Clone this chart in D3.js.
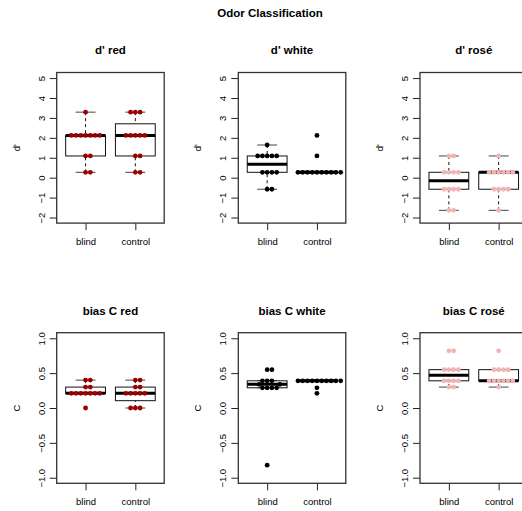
<!DOCTYPE html>
<html><head><meta charset="utf-8">
<script src="https://cdn.jsdelivr.net/npm/d3@7"></script>
<style>
body{margin:0;background:#fff}
text{font-family:"Liberation Sans",Arial,Helvetica,sans-serif;fill:#000}
</style></head>
<body><svg id="chart" width="522" height="511"></svg>
<script>
// ---- data ----
const mainTitle = "Odor Classification";
const groups = ["blind", "control"];
const panelTitles = ["d' red", "d' white", "d' rosé", "bias C red", "bias C white", "bias C rosé"];
const rowYLabels = ["d'", "C"];
const dTicks = [-2, -1, 0, 1, 2, 3, 4, 5];
const cTicks = [-1.0, -0.5, 0.0, 0.5, 1.0];
const wineColors = ["#990000", "#000000", "#f3b3b3"];

const dRedBlind     = [3.29, 2.12, 2.12, 2.12, 2.12, 2.12, 2.12, 2.12, 1.09, 1.09, 0.27, 0.27];
const dRedControl   = [3.29, 3.29, 3.29, 2.12, 2.12, 2.12, 2.12, 2.12, 1.09, 1.09, 0.27, 0.27];
const dWhiteBlind   = [1.64, 1.09, 1.09, 1.09, 1.09, 1.09, 0.27, 0.27, 0.27, 0.27, -0.58, -0.58];
const dWhiteControl = [2.12, 1.09, 0.27, 0.27, 0.27, 0.27, 0.27, 0.27, 0.27, 0.27, 0.27, 0.27];
const dRoseBlind    = [1.09, 1.09, 0.27, 0.27, 0.27, 0.27, -0.58, -0.58, -0.58, -0.58, -1.64, -1.64];
const dRoseControl  = [1.09, 0.27, 0.27, 0.27, 0.27, 0.27, 0.27, -0.58, -0.58, -0.58, -0.58, -1.64];
const cRedBlind     = [0.40, 0.40, 0.30, 0.30, 0.21, 0.21, 0.21, 0.21, 0.21, 0.21, 0.21, 0.00];
const cRedControl   = [0.40, 0.40, 0.30, 0.30, 0.21, 0.21, 0.21, 0.21, 0.21, 0.00, 0.00, 0.00];
const cWhiteBlind   = [0.55, 0.55, 0.39, 0.39, 0.39, 0.34, 0.34, 0.29, 0.29, 0.29, 0.29, -0.82];
const cWhiteControl = [0.39, 0.39, 0.39, 0.39, 0.39, 0.39, 0.39, 0.39, 0.39, 0.39, 0.29, 0.21];
const cRoseBlind    = [0.82, 0.82, 0.55, 0.55, 0.55, 0.55, 0.39, 0.39, 0.39, 0.39, 0.30, 0.30];
const cRoseControl  = [0.82, 0.55, 0.55, 0.55, 0.55, 0.39, 0.39, 0.39, 0.39, 0.39, 0.39, 0.30];

const panelData = [
  [dRedBlind, dRedControl], [dWhiteBlind, dWhiteControl], [dRoseBlind, dRoseControl],
  [cRedBlind, cRedControl], [cWhiteBlind, cWhiteControl], [cRoseBlind, cRoseControl]
];

// ---- layout ----
const colLeft = [56.7, 238.3, 420];
const rowTop = [72.5, 332.7];
const pw = 107.5, ph = 150.6;
const titleBase = [53.5, 314.5];
const svg = d3.select("#chart");

svg.append("text").attr("x", 270).attr("y", 16.5).attr("text-anchor", "middle")
  .style("font-size", "11.5px").style("font-weight", "bold").text(mainTitle);

function fivenum(x) {
  const s = x.slice().sort((a, b) => a - b), n = s.length;
  const n4 = Math.floor((n + 3) / 2) / 2;
  const d = [1, n4, (n + 1) / 2, n + 1 - n4, n];
  return d.map(k => 0.5 * (s[Math.floor(k) - 1] + s[Math.ceil(k) - 1]));
}
function boxStats(x) {
  const f = fivenum(x), iqr = f[3] - f[1];
  const inside = x.filter(v => v >= f[1] - 1.5 * iqr && v <= f[3] + 1.5 * iqr);
  return { lo: d3.min(inside), q1: f[1], med: f[2], q3: f[3], hi: d3.max(inside) };
}
function swarm(vals, yScale, d) {
  const pts = vals.map((v, i) => ({ v, i, py: yScale(v) }))
    .sort((a, b) => a.v - b.v || a.i - b.i);
  const placed = [];
  for (const p of pts) {
    const cands = [0];
    for (const q of placed) {
      const dy = Math.abs(q.py - p.py);
      if (dy < d) { const dx = Math.sqrt(d * d - dy * dy); cands.push(q.dx + dx, q.dx - dx); }
    }
    const ok = cands.filter(c => placed.every(q => {
      const dy = q.py - p.py, dx = q.dx - c; return dx * dx + dy * dy >= d * d - 1e-6;
    }));
    let best = ok[0];
    for (const c of ok) if (Math.abs(c) < Math.abs(best) - 1e-9) best = c;
    p.dx = best; placed.push(p);
  }
  return placed;
}

panelData.forEach((pd, k) => {
  const row = Math.floor(k / 3), col = k % 3;
  const L = colLeft[col], T = rowTop[row];
  const isD = row === 0;
  const y = d3.scaleLinear().domain(isD ? [-2.28, 5.28] : [-1.08, 1.08]).range([T + ph, T]);
  const x = d3.scaleLinear().domain([0.42, 2.58]).range([L, L + pw]);
  const color = wineColors[col];
  const g = svg.append("g");

  // title
  g.append("text").attr("x", L + pw / 2).attr("y", titleBase[row]).attr("text-anchor", "middle")
    .style("font-size", "11.5px").style("font-weight", "bold").text(panelTitles[k]);

  // y axis
  const ya = g.append("g").attr("transform", `translate(${L},0)`)
    .call(d3.axisLeft(y).tickValues(isD ? dTicks : cTicks).tickSize(7)
      .tickFormat(v => isD ? d3.format("d")(v) : d3.format(".1f")(v)));
  ya.select(".domain").remove();
  ya.selectAll(".tick line").attr("stroke", "#222");
  ya.selectAll(".tick text").attr("x", null).attr("dy", null)
    .attr("transform", "translate(-12,0) rotate(-90)").attr("text-anchor", "middle")
    .style("font-size", "9.5px").style("font-family", '"Liberation Sans",Arial,sans-serif');

  // x axis
  const xa = g.append("g").attr("transform", `translate(0,${T + ph})`)
    .call(d3.axisBottom(x).tickValues([1, 2]).tickSize(7).tickFormat((v, i) => groups[i]));
  xa.select(".domain").remove();
  xa.selectAll(".tick line").attr("stroke", "#222");
  xa.selectAll(".tick text").attr("dy", null).attr("y", 21.5)
    .style("font-size", "9.5px").style("font-family", '"Liberation Sans",Arial,sans-serif');

  // y label
  g.append("text").attr("transform", `translate(${L - 37},${T + ph / 2}) rotate(-90)`)
    .attr("text-anchor", "middle").style("font-size", "9.5px").text(rowYLabels[row]);

  // boxplots
  pd.forEach((vals, gi) => {
    const s = boxStats(vals), cx = x(gi + 1);
    const bw = x(gi + 1.4) - x(gi + 1), sw = x(gi + 1.2) - x(gi + 1);
    const bg = g.append("g").attr("fill", "none").attr("stroke", "#111").attr("stroke-width", 1);
    bg.append("line").attr("x1", cx).attr("x2", cx).attr("y1", y(s.hi)).attr("y2", y(s.q3)).attr("stroke-dasharray", "3,3");
    bg.append("line").attr("x1", cx).attr("x2", cx).attr("y1", y(s.lo)).attr("y2", y(s.q1)).attr("stroke-dasharray", "3,3");
    bg.append("line").attr("x1", cx - sw).attr("x2", cx + sw).attr("y1", y(s.hi)).attr("y2", y(s.hi)).attr("stroke", "#444");
    bg.append("line").attr("x1", cx - sw).attr("x2", cx + sw).attr("y1", y(s.lo)).attr("y2", y(s.lo)).attr("stroke", "#444");
    bg.append("rect").attr("x", cx - bw).attr("width", 2 * bw)
      .attr("y", y(s.q3)).attr("height", Math.max(0, y(s.q1) - y(s.q3))).attr("fill", "#fff");
    bg.append("line").attr("x1", cx - bw).attr("x2", cx + bw).attr("y1", y(s.med)).attr("y2", y(s.med))
      .attr("stroke", "#000").attr("stroke-width", 3);
  });

  // frame
  g.append("rect").attr("x", L).attr("y", T).attr("width", pw).attr("height", ph)
    .attr("fill", "none").attr("stroke", "#333").attr("stroke-width", 1.3);

  // swarm points
  pd.forEach((vals, gi) => {
    const cx = x(gi + 1);
    const pts = swarm(vals, y, 4.75);
    g.selectAll(null).data(pts).enter().append("circle")
      .attr("cx", p => cx + p.dx).attr("cy", p => p.py).attr("r", 2.4).attr("fill", color);
  });
});
</script>
</body></html>
